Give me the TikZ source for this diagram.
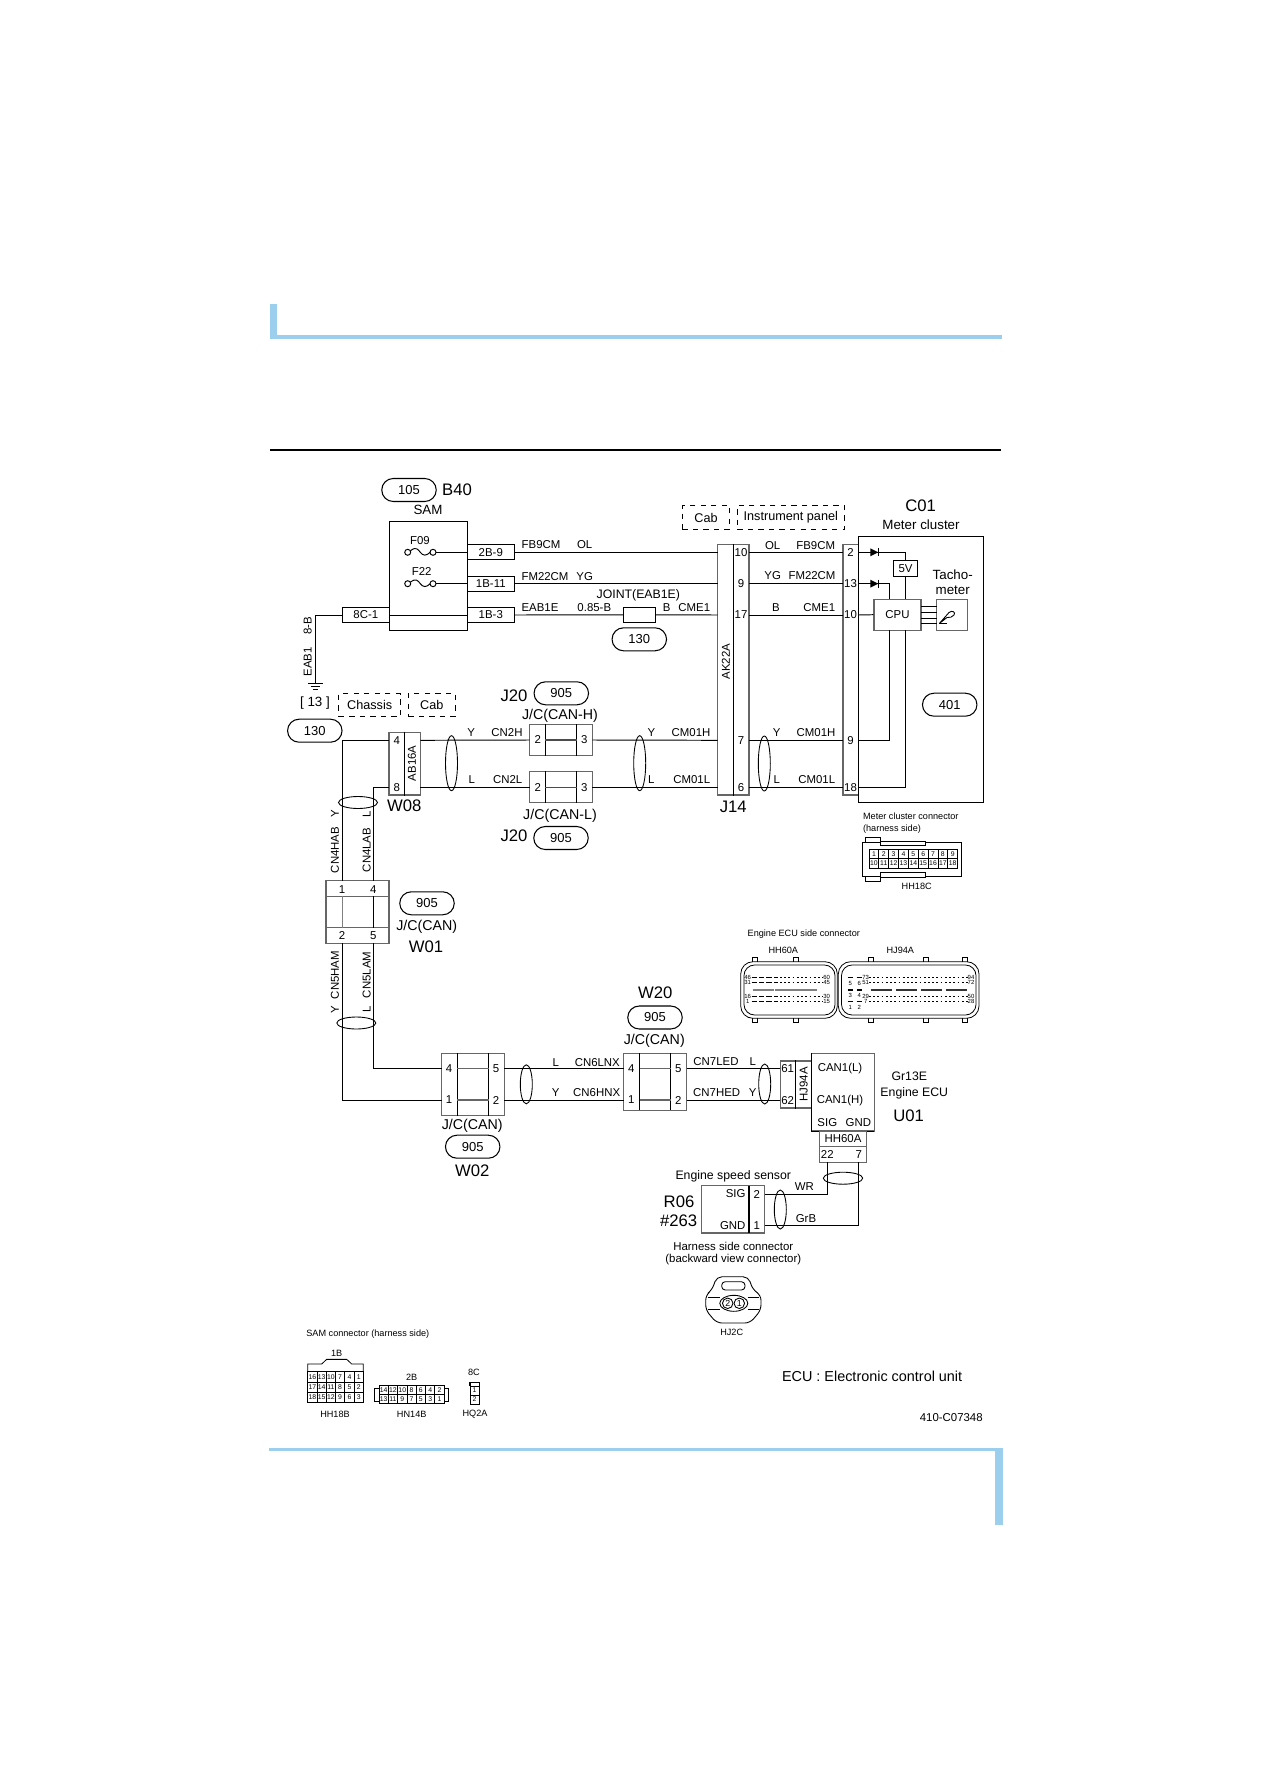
\documentclass[tikz,border=0pt]{standalone}
\usepackage{fontspec}
\setmainfont{Liberation Sans}
\usetikzlibrary{shapes.geometric,shapes.misc}
\definecolor{barblue}{HTML}{9CCFEE}
\tikzset{
	wire/.style={line width=0.55pt},
	tx/.style={inner sep=0,font=\fontsize{6.5}{7}\selectfont},
	mid/.style={inner sep=0,font=\fontsize{7.6}{8}\selectfont},
	jc/.style={inner sep=0,font=\fontsize{8.1}{9}\selectfont},
	lab/.style={inner sep=0,font=\fontsize{7}{8}\selectfont},
	big/.style={inner sep=0,font=\fontsize{9.5}{10}\selectfont},
	small/.style={inner sep=0,font=\fontsize{5.2}{6}\selectfont},
	micro/.style={inner sep=0,font=\fontsize{3.4}{4}\selectfont},
	pill/.style={draw,rounded rectangle,line width=0.6pt,inner sep=0,minimum width=1.09cm,minimum height=0.46cm,font=\fontsize{7.4}{8}\selectfont},
	dbox/.style 2 args={draw,dashed,line width=0.6pt,inner sep=0,minimum width=#1*0.02cm,minimum height=#2*0.02cm,font=\fontsize{7.2}{8}\selectfont},
	box/.style 2 args={draw,line width=0.6pt,inner sep=0,minimum width=#1*0.02cm,minimum height=#2*0.02cm,font=\fontsize{6.5}{7}\selectfont},
	conbox/.style 2 args={draw=black!60,line width=0.7pt,inner sep=0,minimum width=#1*0.02cm,minimum height=#2*0.02cm},
	loom/.style 2 args={draw,ellipse,line width=0.5pt,inner sep=0,minimum width=#1*0.02cm,minimum height=#2*0.02cm},
	cell/.style 2 args={draw,line width=0.45pt,inner sep=0,minimum width=#1*0.02cm,minimum height=#2*0.02cm,font=\fontsize{3.9}{4}\selectfont}
}
\begin{document}
\begin{tikzpicture}[x=0.02cm,y=-0.02cm]
	\useasboundingbox (0,0) rectangle (1263,1787);
	\fill[barblue] (270,304) rectangle (277,339); %page bars
	\fill[barblue] (270,335) rectangle (1002,339);
	\fill[black] (270,449.2) rectangle (1001,451.3);
	\fill[barblue] (269,1448) rectangle (1003,1451);
	\fill[barblue] (995,1448) rectangle (1003,1525);

	\node[pill] (p105) at (409,490) {105}; %SAM
	\node[big] (tB40) at (457,490) {B40};
	\node[mid] (tSAM) at (428,510) {SAM};
	\node[box={78}{109}] (sam) at (428.3,575.8) {};
	\node[tx] (tF09) at (420,540.5) {F09};
	\node[tx] (tF22) at (421.7,571.7) {F22};
	\node[box={47}{15.3}] (c2B9) at (490.8,552.3) {2B-9};
	\node[box={47}{15.3}] (c1B11) at (490.8,583.7) {1B-11};
	\node[box={47}{15.3}] (c1B3) at (490.8,615) {1B-3};
	\node[box={47}{15.3}] (c8C1) at (365.8,615) {8C-1};
	\foreach \fy/\fn in {552.3/a,583.7/b}{ %fuses
		\draw[wire] (407.7,\fy) circle[radius=3];
		\draw[wire] (433,\fy) circle[radius=3];
		\draw[wire] (410.4,\fy-1.5) .. controls (416,\fy-6) and (418,\fy-3) .. (420.3,\fy) .. controls (423,\fy+3.5) and (426,\fy+4) .. (430.2,\fy);
		\coordinate (fuse\fn) at (436,\fy);
	}
	\draw[wire] (fusea) -- (c2B9.west);
	\draw[wire] (fuseb) -- (c1B11.west);
	\draw[wire] (c8C1.east) -- (c1B3.west);
	\coordinate (gnd) at (315.3,683);
	\draw[wire] (c8C1.west) -| (gnd); %ground
	\draw[wire] (308,683.3) -- (322.7,683.3);
	\draw[wire] (310.7,686.3) -- (320.3,686.3);
	\draw[wire] (313,689.3) -- (318,689.3);
	\node[tx,rotate=90] (tEAB) at (307.7,661.7) {EAB1};
	\node[tx,rotate=90] (t8B) at (307.7,626) {8-B};
	\node[mid] (t13) at (315,703.3) {[ 13 ]};
	\node[dbox={62}{22.6}] (dChas) at (369.7,705) {Chassis};
	\node[dbox={47}{22.6}] (dCabA) at (431.8,705) {Cab};
	\node[pill] (p130a) at (314.8,730.7) {130};

	\node[dbox={47.4}{23.6}] (dCabB) at (706,517.5) {Cab}; %zone boxes
	\node[dbox={107}{24.4}] (dInst) at (790.8,517.5) {Instrument panel};
	\node[tx] (wFBa) at (541,545) {FB9CM};
	\node[tx] (wOLa) at (584.7,545) {OL};
	\node[tx] (wFMa) at (545,576.3) {FM22CM};
	\node[tx] (wYGa) at (584.7,576.3) {YG};
	\node[tx] (wEAB) at (540,607.7) {EAB1E};
	\node[tx] (w085) at (594.3,607.7) {0.85-B};
	\node[tx] (wBa) at (666.7,607.7) {B};
	\node[tx] (wCMa) at (694.3,607.7) {CME1};
	\node[lab] (tJoint) at (638.3,595) {JOINT(EAB1E)};
	\node[box={32.4}{15}] (jnt) at (639.5,614.8) {};
	\node[pill] (p130b) at (639.3,639.3) {130};

	\node[conbox={31.3}{250.3}] (conJ) at (733.35,669.85) {}; %J14
	\draw[wire] (conJ.north) -- (conJ.south);
	\node[tx,rotate=90] (tAK) at (726,661.7) {AK22A};
	\node[big] (tJ14) at (733.3,807.3) {J14};
	\foreach \pn/\py/\pk in {10/552.3/a,9/583.7/b,17/615/c,7/740.3/d,6/787.3/e}{
		\node[tx] (pj\pk) at (741,\py) {\pn};
		\coordinate (jL\pk) at (717.7,\py);
		\coordinate (jR\pk) at (749,\py);
	}
	\draw[wire] (c2B9.east) -- (jLa);
	\draw[wire] (c1B11.east) -- (jLb);
	\draw[wire] (c1B3.east) -- (jnt.west);
	\draw[wire] (jnt.east) -- (jLc);

	\node[box={125}{265.6}] (mtr) at (920.8,669.5) {}; %meter cluster
	\draw[draw=black!60,line width=0.7pt] (858.3,544.7) -- (843,544.7) -- (843,795) -- (858.3,795);
	\foreach \pn/\py/\pk in {2/552.3/a,13/583.7/b,10/615/c,9/740.3/d,18/787.3/e}{
		\node[tx] (pm\pk) at (850.5,\py) {\pn};
		\coordinate (mL\pk) at (843,\py);
		\coordinate (mR\pk) at (858.3,\py);
	}
	\foreach \pk in {a,b,c,d,e}
		\draw[wire] (jR\pk) -- (mL\pk);
	\node[big] (tC01) at (920.7,506) {C01};
	\node[mid] (tMeter) at (921,524.3) {Meter cluster};
	\node[tx] (wOLb) at (772.7,545.3) {OL};
	\node[tx] (wFBb) at (815.7,545.3) {FB9CM};
	\node[tx] (wYGb) at (772.7,576) {YG};
	\node[tx] (wFMb) at (812,576) {FM22CM};
	\node[tx] (wBb) at (776,607.3) {B};
	\node[tx] (wCMb) at (819.3,607.3) {CME1};
	\node[tx] (wYa) at (776.7,732.3) {Y};
	\node[tx] (wCHa) at (816,732.3) {CM01H};
	\node[tx] (wLa) at (776.7,780) {L};
	\node[tx] (wCLa) at (816.7,780) {CM01L};
	\node[loom={12}{55}] (sMtr) at (764.3,763.5) {};
	\node[box={24.4}{16}] (v5) at (905.5,568.3) {5V};
	\node[box={47}{31.3},draw=black!60] (cpu) at (897.5,614.7) {CPU};
	\node[box={31.3}{31.3},draw=black!60] (tach) at (952.3,614.7) {};
	\node[mid] (tTa) at (952.7,575) {Tacho-};
	\node[mid] (tTb) at (952.7,590.3) {meter};
	\node[pill] (p401) at (949.7,704.7) {401};
	\foreach \dy in {552.3,583.7}{ %diodes
		\fill (870.3,\dy-4) -- (878.3,\dy) -- (870.3,\dy+4) -- cycle;
		\draw[wire] (878.3,\dy-4) -- (878.3,\dy+4);
	}
	\coordinate (cpuT) at (889.3,599);
	\coordinate (cpuB) at (889.3,630.4);
	\coordinate (cpuC) at (905.5,599);
	\coordinate (cpuD) at (905.5,630.4);
	\draw[wire] (mRa) -| (v5.north);
	\draw[wire] (mRb) -| (cpuT);
	\draw[wire] (v5.south) -- (cpuC);
	\draw[wire] (mRc) -- (cpu.west);
	\draw[wire] (mRd) -| (cpuB);
	\draw[wire] (mRe) -| (cpuD);
	\foreach \ly in {606.3,612,618,623.7}
		\draw[line width=0.45pt] (921,\ly) -- (936.7,\ly);
	\draw[line width=0.5pt] (939.3,623.5) -- (949,612.5) .. controls (952,610) and (956,612) .. (954,615) .. controls (952,617.5) and (950,617.5) .. (947,617.5) -- cycle; %needle
	\draw[line width=0.5pt] (939.3,623.5) -- (947,623.5);

	\node[conbox={31.3}{62.7}] (conW) at (404.65,763.65) {}; %W08
	\draw[wire] (conW.north) -- (conW.south);
	\node[tx] (pw4) at (396.7,740.7) {4};
	\node[tx] (pw8) at (396.7,787.3) {8};
	\node[tx,rotate=90] (tAB) at (412,763.3) {AB16A};
	\node[big] (tW08) at (404.3,805.7) {W08};
	\coordinate (abLa) at (389,740.3);
	\coordinate (abLb) at (389,787.3);
	\coordinate (abRa) at (420.3,740.3);
	\coordinate (abRb) at (420.3,787.3);

	\foreach \bn/\bx/\by/\bh in {jcH/561/740/31.4,jcL/561/787/31.4,wtw/473/1084.5/62.4,wtn/655.2/1081.8/57}{ %J/C boxes
		\node[conbox={62.7}{\bh}] (\bn) at (\bx,\by) {};
		\draw[wire] (\bx-15.6,\by-\bh/2) -- (\bx-15.6,\by+\bh/2);
		\draw[wire] (\bx+15.6,\by-\bh/2) -- (\bx+15.6,\by+\bh/2);
	}
	\foreach \pb/\py/\pk in {a/740/H,b/787.3/L}{
		\node[tx] (pj\pb l) at (537.7,\py) {2};
		\node[tx] (pj\pb r) at (584.3,\py) {3};
		\draw[line width=0.7pt,black!70] (545.3,\py) -- (576.7,\py);
		\coordinate (jc\pk a) at (529.7,\py);
		\coordinate (jc\pk b) at (592.3,\py);
	}
	\draw[wire] (abRa) -- (jcHa);
	\draw[wire] (abRb) -- (jcLa);
	\draw[wire] (jcHb) -- (jLd);
	\draw[wire] (jcLb) -- (jLe);
	\node[loom={12}{55}] (sAb) at (451.5,763.2) {};
	\node[loom={12}{55}] (sJc) at (639.7,763.2) {};
	\node[tx] (wYb) at (471.3,733) {Y};
	\node[tx] (wC2H) at (507,733) {CN2H};
	\node[tx] (wLb) at (471.7,779.7) {L};
	\node[tx] (wC2L) at (507.7,779.7) {CN2L};
	\node[tx] (wYc) at (651.3,733) {Y};
	\node[tx] (wCHb) at (691,733) {CM01H};
	\node[tx] (wLc) at (651.3,779.7) {L};
	\node[tx] (wCLb) at (691.7,779.7) {CM01L};
	\node[big] (tJ20a) at (514,695.7) {J20};
	\node[pill] (p905a) at (561.3,693.3) {905};
	\node[jc] (tCanH) at (560,715.7) {J/C(CAN-H)};
	\node[jc] (tCanL) at (560,815.7) {J/C(CAN-L)};
	\node[big] (tJ20b) at (514,835.5) {J20};
	\node[pill] (p905b) at (561,838) {905};

	\node[conbox={63}{62.6}] (wone) at (357.5,912) {}; %W01
	\draw[draw=black!60,line width=0.6pt] (326,896.3) -- (389,896.3);
	\draw[draw=black!60,line width=0.6pt] (326,927.7) -- (389,927.7);
	\draw[draw=black!50,line width=0.6pt] (342.3,896.3) -- (342.3,927.7);
	\draw[wire] (373.3,896.3) -- (373.3,927.7);
	\node[tx] (po1) at (342,889.3) {1};
	\node[tx] (po4) at (373.3,889.3) {4};
	\node[tx] (po2) at (342,936) {2};
	\node[tx] (po5) at (373.3,936) {5};
	\coordinate (oTa) at (342.3,880.7);
	\coordinate (oTb) at (373.3,880.7);
	\coordinate (oBa) at (342.3,943.3);
	\coordinate (oBb) at (373.3,943.3);
	\draw[wire] (abLa) -| (oTa);
	\draw[wire] (abLb) -| (oTb);
	\node[pill] (p905c) at (427,903.3) {905};
	\node[jc] (tCanA) at (426.7,927.3) {J/C(CAN)};
	\node[big] (tW01) at (426,947) {W01};
	\node[loom={39}{12}] (sUp) at (358,802.5) {};
	\node[loom={39}{12}] (sDn) at (356.3,1023) {};
	\node[tx,rotate=90] (vY1) at (335,814) {Y};
	\node[tx,rotate=90] (vL1) at (366.7,814) {L};
	\node[tx,rotate=90] (vC4H) at (335,850) {CN4HAB};
	\node[tx,rotate=90] (vC4L) at (366.7,850) {CN4LAB};
	\node[tx,rotate=90] (vC5H) at (335,975) {CN5HAM};
	\node[tx,rotate=90] (vC5L) at (366.7,975) {CN5LAM};
	\node[tx,rotate=90] (vY2) at (335,1009.3) {Y};
	\node[tx,rotate=90] (vL2) at (366.7,1009.3) {L};

	\foreach \pl/\pr/\py/\pk in {4/5/1068.5/a,1/2/1100/b}{ %W02 and W20 pins
		\node[tx] (tl\pk) at (449,\py) {\pl};
		\node[tx] (tr\pk) at (496,\py) {\pr};
		\node[tx] (nl\pk) at (631.3,\py) {\pl};
		\node[tx] (nr\pk) at (678.3,\py) {\pr};
		\draw[line width=0.7pt,black!60] (457.4,\py) -- (488.6,\py);
		\draw[line width=0.7pt,black!60] (639.6,\py) -- (670.8,\py);
		\coordinate (twL\pk) at (441.7,\py);
		\coordinate (twR\pk) at (504.3,\py);
		\coordinate (tnL\pk) at (623.8,\py);
		\coordinate (tnR\pk) at (686.5,\py);
		\draw[wire] (twR\pk) -- (tnL\pk);
	}
	\draw[wire] (oBa) |- (twLb);
	\draw[wire] (oBb) |- (twLa);
	\node[jc] (tCanB) at (472.3,1126.3) {J/C(CAN)};
	\node[pill] (p905d) at (472.7,1146.7) {905};
	\node[big] (tW02) at (472.3,1170.7) {W02};
	\node[big] (tW20) at (655.3,992.7) {W20};
	\node[pill] (p905e) at (655,1017.5) {905};
	\node[jc] (tCanC) at (654.3,1041) {J/C(CAN)};
	\node[loom={12}{39}] (sTw) at (526.3,1084.3) {};
	\node[tx] (wLd) at (555.7,1062.3) {L};
	\node[tx] (wC6L) at (597.3,1062.3) {CN6LNX};
	\node[tx] (wYd) at (555.7,1092.3) {Y};
	\node[tx] (wC6H) at (596.7,1092.3) {CN6HNX};
	\node[tx] (wC7L) at (716,1061.7) {CN7LED};
	\node[tx] (wLe) at (752.7,1061.7) {L};
	\node[tx] (wC7H) at (716.7,1092.7) {CN7HED};
	\node[tx] (wYe) at (752.7,1092.7) {Y};

	\node[conbox={31}{47}] (conH) at (795.8,1084.5) {}; %engine ECU
	\draw[wire] (conH.north) -- (conH.south);
	\node[tx] (ph61) at (787.7,1069) {61};
	\node[tx] (ph62) at (787.7,1100.3) {62};
	\node[tx,rotate=90] (tHJ) at (803.7,1084.3) {HJ94A};
	\coordinate (hLa) at (780.3,1068.5);
	\coordinate (hLb) at (780.3,1100);
	\draw[wire] (tnRa) -- (hLa);
	\draw[wire] (tnRb) -- (hLb);
	\node[loom={12}{40}] (sHj) at (764.7,1084) {};
	\node[conbox={63}{77.7}] (ecu) at (842.8,1092.2) {};
	\draw[wire] (811.3,1053.3) -- (811.3,1131) -- (874.3,1131);
	\node[tx] (tCL) at (840,1068.7) {CAN1(L)};
	\node[tx] (tCH) at (840,1100.3) {CAN1(H)};
	\node[tx] (tSIG) at (827.3,1123) {SIG};
	\node[tx] (tGND) at (858.3,1123) {GND};
	\node[lab] (tGr) at (909.3,1076.7) {Gr13E};
	\node[lab] (tEng) at (914.3,1093.3) {Engine ECU};
	\node[big] (tU01) at (908.7,1115.7) {U01};
	\node[conbox={47.4}{31.3}] (conS) at (843,1146.7) {};
	\draw[draw=black!60,line width=0.7pt] (conS.west) -- (conS.east);
	\node[tx] (tH60) at (843,1139) {HH60A};
	\node[tx] (p22) at (827.3,1155) {22};
	\node[tx] (p7) at (858.7,1155) {7};
	\coordinate (sA) at (827.3,1162.3);
	\coordinate (sB) at (858.7,1162.3);

	\node[conbox={63}{47.3}] (sens) at (733.2,1209.4) {}; %speed sensor
	\draw[line width=0.8pt] (749,1185.7) -- (749,1233);
	\coordinate (senA) at (764.7,1194);
	\coordinate (senB) at (764.7,1225);
	\draw[wire] (sA) |- (senA);
	\draw[wire] (sB) |- (senB);
	\node[loom={39.4}{12}] (sEs) at (843,1178.2) {};
	\node[loom={12}{39}] (sSn) at (780.3,1209.5) {};
	\node[tx] (wWR) at (804.3,1186.7) {WR};
	\node[tx] (wGrB) at (806,1218.3) {GrB};
	\node[tx] (tSS) at (735.7,1194) {SIG};
	\node[tx] (tSG) at (732.7,1225.3) {GND};
	\node[tx] (ps2) at (756.7,1194) {2};
	\node[tx] (ps1) at (756.7,1225.3) {1};
	\node[lab] (tESS) at (733.3,1176) {Engine speed sensor};
	\node[big] (tR06) at (679,1201.7) {R06};
	\node[big] (t263) at (678.7,1220.7) {\#263};
	\node[tx] (tHar) at (733.3,1246) {Harness side connector};
	\node[tx] (tBack) at (733.3,1260) {(backward view connector)};

	\draw[line width=0.5pt,rounded corners=3pt] (716.7,1276.7) -- (748.3,1276.7) -- (753,1290) -- (761,1295) -- (761,1310) -- (750,1323) -- (716.7,1323) -- (705.7,1310) -- (705.7,1295) -- (712,1290) -- cycle; %HJ2C
	\draw[line width=0.5pt,rounded corners=2pt] (721.7,1281.7) rectangle (745,1290);
	\draw[line width=0.5pt] (733.8,1303.3) ellipse[x radius=14,y radius=8];
	\draw[line width=0.5pt] (708,1297.7) -- (720,1297.7) (708,1309.3) -- (720,1309.3);
	\draw[line width=0.5pt] (747.7,1297.7) -- (758.5,1297.7) (747.7,1309.3) -- (758.5,1309.3);
	\node[draw,circle,line width=0.5pt,inner sep=0,minimum size=0.21cm,font=\fontsize{5}{5}\selectfont] (hj2) at (727.7,1303.3) {2};
	\node[draw,circle,line width=0.5pt,inner sep=0,minimum size=0.21cm,font=\fontsize{5}{5}\selectfont] (hj1) at (739.3,1303.3) {1};
	\node[small] (tHJ2) at (731.7,1332) {HJ2C};

	\node[small,anchor=west] (tMC) at (862.7,816.7) {Meter cluster connector}; %HH18C
	\node[small,anchor=west] (tHS) at (862.7,829) {(harness side)};
	\draw[line width=0.45pt] (862.7,842.3) rectangle (961.7,876);
	\draw[line width=0.45pt] (865.7,842.3) -- (865.7,837.3) -- (880,837.3) -- (880,842.3);
	\draw[line width=0.45pt] (865.7,876) -- (865.7,881) -- (880,881) -- (880,876);
	\filldraw[fill=white,draw=black,line width=0.45pt] (880,841) rectangle (925,845.7);
	\filldraw[fill=white,draw=black,line width=0.45pt] (880,872.7) rectangle (925,877.3);
	\foreach \n [count=\k] in {1,...,9}
		\node[cell={9.85}{9.5}] (mc\n) at ({869+(\k-0.5)*9.85},854) {\n};
	\foreach \n [count=\k] in {10,...,18}
		\node[cell={9.85}{9.5}] (mc\n) at ({869+(\k-0.5)*9.85},863.5) {\n};
	\node[small] (tHH18C) at (916.7,886.7) {HH18C};

	\node[small,anchor=west] (tES) at (747.3,933.7) {Engine ECU side connector}; %ECU connectors
	\node[small] (tHH60) at (783.3,950.7) {HH60A};
	\node[small] (tHJ94) at (900.3,950.7) {HJ94A};
	\draw[line width=0.45pt,rounded corners=7pt] (740.7,961.7) rectangle (837.3,1018.3);
	\draw[line width=0.45pt,rounded corners=6pt] (744,965) rectangle (835,1015);
	\draw[line width=0.45pt,rounded corners=7pt] (838.3,961.7) rectangle (979,1018.3);
	\draw[line width=0.45pt,rounded corners=6pt] (841.5,965) rectangle (976,1015);
	\foreach \tx in {754.5,795.5,871,926,964.5}{
		\draw[line width=0.45pt] (\tx-2.5,961.7) -- (\tx-2.5,957.7) -- (\tx+2.5,957.7) -- (\tx+2.5,961.7);
		\draw[line width=0.45pt] (\tx-2.5,1018.3) -- (\tx-2.5,1022) -- (\tx+2.5,1022) -- (\tx+2.5,1018.3);
	}
	\foreach \ry/\ra/\rb/\rc in {977/46/60/a,982.7/31/45/b,996/16/30/c,1001.7/1/15/d}{
		\node[micro] (hhL\rc) at (747.7,\ry) {\ra};
		\node[micro] (hhR\rc) at (826.7,\ry) {\rb};
		\draw[line width=0.55pt,dash pattern=on 3pt off 1.2pt] (751.7,\ry) -- (778,\ry);
		\draw[line width=0.55pt,dash pattern=on 1pt off 1.4pt] (780,\ry) -- (823,\ry);
	}
	\foreach \bx in {752.7,775,796}
		\draw[line width=1.5pt,black!50] (\bx,990) -- (\bx+21,990);
	\foreach \ry/\ra/\rb/\rc in {977.5/73/94/a,982.7/51/72/b,996/29/50/c,1001.7/7/28/d}{
		\node[micro] (hjL\rc) at (865.7,\ry) {\ra};
		\node[micro] (hjR\rc) at (971,\ry) {\rb};
		\draw[line width=0.55pt,dash pattern=on 1pt off 1.4pt] (869,\ry) -- (968,\ry);
	}
	\foreach \bx in {870.7,896,920.7,945.7}
		\draw[line width=0.9pt,black!80] (\bx,990) -- (\bx+21,990);
	\foreach \sy/\sa/\sb in {977.7/5/6,990/3/4,1001.7/1/2}{
		\draw[line width=0.6pt] (847.5,\sy) -- (853,\sy);
		\draw[line width=0.6pt] (856.5,\sy) -- (862,\sy);
		\node[micro] (hs\sa) at (850.3,\sy+5.3) {\sa};
		\node[micro] (hs\sb) at (859.3,\sy+5.3) {\sb};
	}

	\node[small,anchor=west] (tSC) at (306,1334) {SAM connector (harness side)}; %SAM connectors
	\node[small] (t1B) at (336.7,1353.3) {1B};
	\draw[line width=0.45pt] (307.7,1371.7) -- (307.7,1364) -- (321.7,1364) -- (326.7,1359.3) -- (346.7,1359.3) -- (351.7,1364) -- (363.3,1364) -- (363.3,1371.7);
	\draw[line width=0.9pt] (326.7,1359.3) -- (346.7,1359.3);
	\foreach \na/\nb/\nc [count=\k] in {16/17/18,13/14/15,10/11/12,7/8/9,4/5/6,1/2/3}{
		\node[cell={9.27}{10.2}] (bb\na) at ({307.7+(\k-0.5)*9.27},1376.8) {\na};
		\node[cell={9.27}{10.2}] (bb\nb) at ({307.7+(\k-0.5)*9.27},1387) {\nb};
		\node[cell={9.27}{10.2}] (bb\nc) at ({307.7+(\k-0.5)*9.27},1397.2) {\nc};
	}
	\node[small] (tHH18B) at (335,1414) {HH18B};
	\node[small] (t2B) at (411.7,1377.3) {2B};
	\foreach \na/\nb [count=\k] in {14/13,12/11,10/9,8/7,6/5,4/3,2/1}{
		\node[cell={9.3}{8.8}] (cc\na) at ({379+(\k-0.5)*9.3},1390.1) {\na};
		\node[cell={9.3}{8.8}] (cc\nb) at ({379+(\k-0.5)*9.3},1398.9) {\nb};
	}
	\draw[line width=0.45pt] (379,1388) -- (374.5,1388) -- (374.5,1401) -- (379,1401);
	\draw[line width=0.45pt] (444.1,1388) -- (448.5,1388) -- (448.5,1401) -- (444.1,1401);
	\node[small] (tHN14B) at (411.7,1414) {HN14B};
	\node[small] (t8C) at (474,1372.3) {8C};
	\node[cell={9.3}{9}] (dd1) at (474.6,1390.5) {1};
	\node[cell={9.3}{9}] (dd2) at (474.6,1399.5) {2};
	\draw[line width=0.9pt] (470,1386) -- (470,1382.3) -- (479.3,1382.3) -- (479.3,1386);
	\node[small] (tHQ2A) at (475,1414) {HQ2A};

	\node[inner sep=0,anchor=west,font=\fontsize{8.2}{9}\selectfont] (tNote) at (781.7,1376) {ECU : Electronic control unit};
	\node[tx,anchor=east] (tCode) at (983,1418) {410-C07348};
\end{tikzpicture}
\end{document}
